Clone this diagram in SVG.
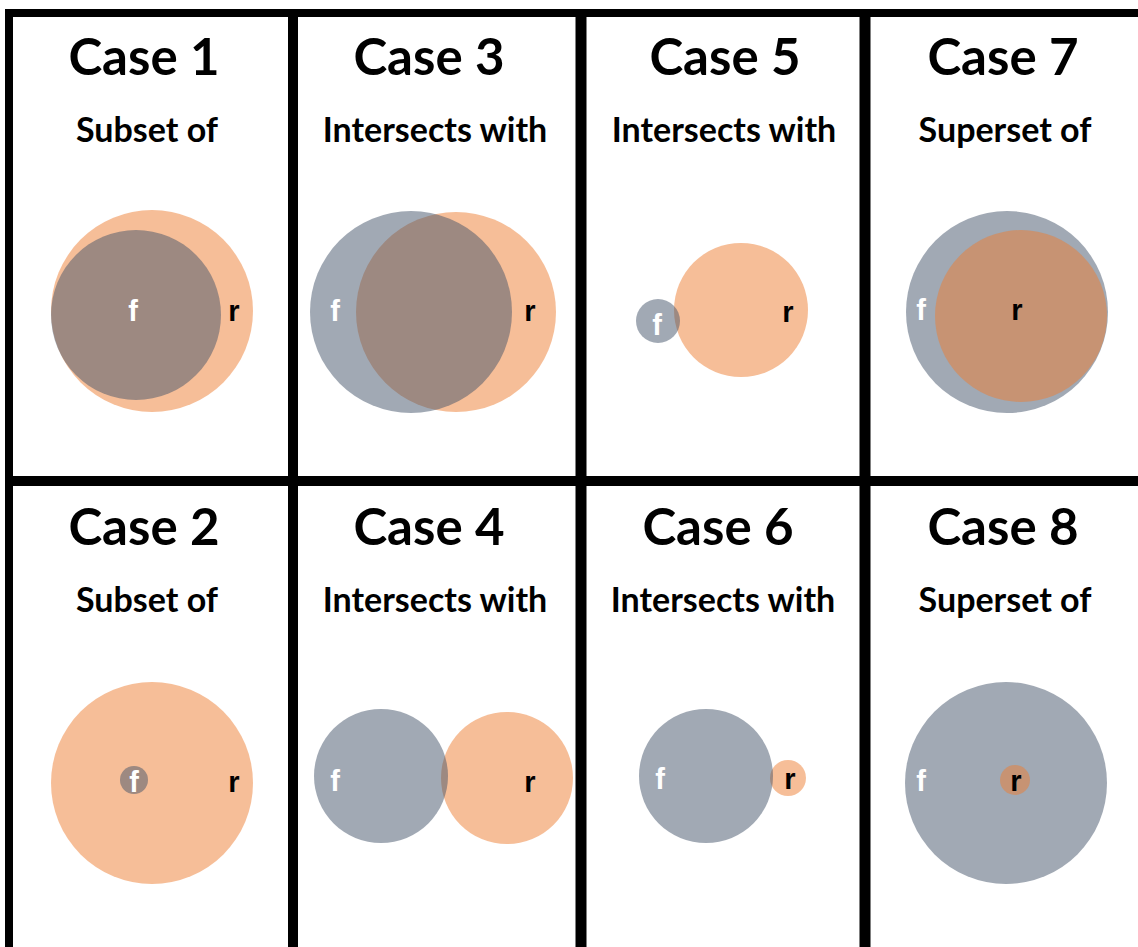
<svg xmlns="http://www.w3.org/2000/svg" width="1138" height="947" viewBox="0 0 1138 947">
<style>
.title{font-family:Lato,"Open Sans","Liberation Sans",sans-serif;font-weight:bold;font-size:51px;fill:#000;text-anchor:middle}
.sub{font-family:Lato,"Open Sans","Liberation Sans",sans-serif;font-weight:bold;font-size:34px;fill:#000;text-anchor:middle}
.lf{font-family:"Liberation Sans",Arial,sans-serif;font-weight:bold;font-size:29px;fill:#fff;text-anchor:middle}
.lr{font-family:"Liberation Sans",Arial,sans-serif;font-weight:bold;font-size:29px;fill:#000;text-anchor:middle}
.cf{fill:#44546A;fill-opacity:0.5}
.cr{fill:#ED7D31;fill-opacity:0.5}
.grid{stroke:#000;fill:none}
</style>
<rect width="1138" height="947" fill="#fff"/>
<g id="grid">
<line class="grid" x1="5" y1="13" x2="1138" y2="13" stroke-width="8"/>
<line class="grid" x1="5" y1="481" x2="1138" y2="481" stroke-width="10"/>
<line class="grid" x1="9" y1="9" x2="9" y2="947" stroke-width="8"/>
<line class="grid" x1="293" y1="9" x2="293" y2="947" stroke-width="10"/>
<line class="grid" x1="581" y1="9" x2="581" y2="947" stroke-width="11"/>
<line class="grid" x1="865" y1="9" x2="865" y2="947" stroke-width="11"/>
</g>
<g id="connectors"></g>
<g id="case1">
<text class="title" x="144" y="75">Case 1</text>
<text class="sub" x="147" y="142">Subset of</text>
<circle class="cr" cx="152" cy="311" r="101"/>
<circle class="cf" cx="136" cy="315" r="85"/>
<text class="lf" x="133" y="321">f</text>
<text class="lr" x="234" y="321">r</text>
</g>
<g id="case3">
<text class="title" x="429" y="75">Case 3</text>
<text class="sub" x="435" y="142">Intersects with</text>
<circle class="cr" cx="456" cy="312" r="100"/>
<circle class="cf" cx="411" cy="312" r="101"/>
<text class="lf" x="335" y="321">f</text>
<text class="lr" x="530" y="321">r</text>
</g>
<g id="case5">
<text class="title" x="725" y="75">Case 5</text>
<text class="sub" x="724" y="142">Intersects with</text>
<circle class="cr" cx="741" cy="310" r="67"/>
<circle class="cf" cx="658" cy="321" r="22"/>
<text class="lf" x="657" y="335">f</text>
<text class="lr" x="788" y="322">r</text>
</g>
<g id="case7">
<text class="title" x="1003" y="75">Case 7</text>
<text class="sub" x="1005" y="142">Superset of</text>
<circle class="cf" cx="1007" cy="312" r="101"/>
<circle class="cr" cx="1021" cy="316" r="86"/>
<text class="lf" x="921" y="320">f</text>
<text class="lr" x="1017" y="320">r</text>
</g>
<g id="case2">
<text class="title" x="144" y="545">Case 2</text>
<text class="sub" x="147" y="612">Subset of</text>
<circle class="cr" cx="152" cy="783" r="101"/>
<circle class="cf" cx="134" cy="780" r="14"/>
<text class="lf" x="134" y="792">f</text>
<text class="lr" x="234" y="792">r</text>
</g>
<g id="case4">
<text class="title" x="429" y="545">Case 4</text>
<text class="sub" x="435" y="612">Intersects with</text>
<circle class="cr" cx="507" cy="778" r="66"/>
<circle class="cf" cx="381" cy="776" r="67"/>
<text class="lf" x="335" y="791">f</text>
<text class="lr" x="530" y="792">r</text>
</g>
<g id="case6">
<text class="title" x="718" y="545">Case 6</text>
<text class="sub" x="723" y="612">Intersects with</text>
<circle class="cr" cx="788" cy="778" r="18"/>
<circle class="cf" cx="706" cy="776" r="67"/>
<text class="lf" x="660" y="789">f</text>
<text class="lr" x="790" y="789">r</text>
</g>
<g id="case8">
<text class="title" x="1003" y="545">Case 8</text>
<text class="sub" x="1005" y="612">Superset of</text>
<circle class="cf" cx="1006" cy="783" r="101"/>
<circle class="cr" cx="1015" cy="780" r="15"/>
<text class="lf" x="921" y="791">f</text>
<text class="lr" x="1016" y="791">r</text>
</g>
</svg>
